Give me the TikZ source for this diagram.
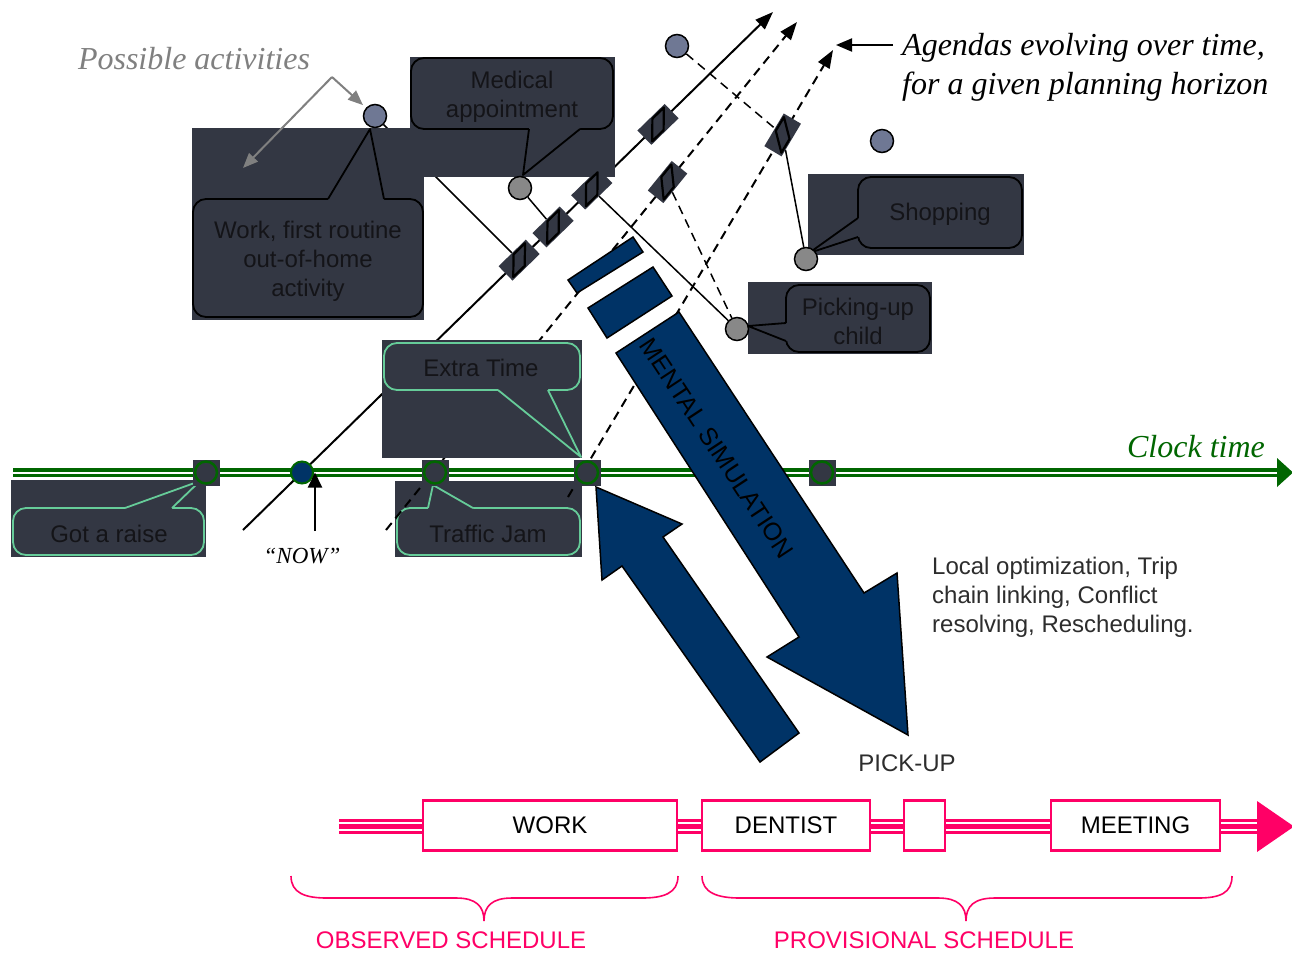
\documentclass[tikz,border=0pt]{standalone}
\usepackage{fontspec}
\setmainfont{Liberation Serif}
\setsansfont{Liberation Sans}
\usetikzlibrary{arrows.meta,calc}

\definecolor{panel}{RGB}{51,55,67}
\definecolor{ink}{RGB}{20,20,24}
\definecolor{actslate}{RGB}{111,120,148}
\definecolor{actgray}{RGB}{136,136,136}
\definecolor{simblue}{RGB}{0,51,102}
\definecolor{mint}{RGB}{102,204,153}
\definecolor{clockgreen}{RGB}{0,102,0}
\definecolor{schedpink}{RGB}{255,0,102}
\definecolor{softgray}{RGB}{128,128,128}
\definecolor{notegray}{RGB}{45,45,45}

\pgfdeclarelayer{under}
\pgfdeclarelayer{wires}
\pgfdeclarelayer{panels}
\pgfsetlayers{under,wires,panels,main}

\begin{document}
\begin{tikzpicture}[x=1pt,y=-1pt,
  lbl/.style={font=\sffamily\fontsize{24}{29}\selectfont, text=ink, align=center, inner sep=0pt, yshift=-2pt},
  serifit/.style={font=\itshape\fontsize{32}{39}\selectfont, inner sep=0pt},
  act/.style={circle, draw=black, line width=1.5pt, minimum size=23pt, inner sep=0pt},
  slatept/.style={act, fill=actslate},
  graypt/.style={act, fill=actgray},
  bar/.style={rectangle, fill=panel, minimum width=38pt, minimum height=20pt, inner sep=0pt},
  barline/.style={draw=black, line width=2.2pt, line join=round},
  backdrop/.style={fill=panel},
  bubble/.style={fill=panel, draw=black, line width=1.8pt, rounded corners=13pt},
  mintbubble/.style={bubble, draw=mint},
  ptr/.style={draw=black, line width=1.8pt, line join=round},
  mintptr/.style={ptr, draw=mint},
  agenda/.style={line width=2pt, -{Triangle[length=18pt,width=13pt]}},
  dashedagenda/.style={agenda, dash pattern=on 9pt off 6pt},
  link/.style={line width=1.5pt},
  dashedlink/.style={link, dash pattern=on 9pt off 6pt},
  clocksq/.style={rectangle, fill=panel, minimum width=27pt, minimum height=26pt, inner sep=0pt},
  clockev/.style={circle, draw=clockgreen, fill=panel, line width=2.5pt, minimum size=22pt, inner sep=0pt},
  sim/.style={fill=simblue, draw=black, line width=1.5pt, line join=miter},
  schedbox/.style={rectangle, draw=schedpink, fill=white, line width=2.5pt, minimum height=50pt, inner sep=0pt, text=black, font=\sffamily\fontsize{24}{29}\selectfont},
  brace/.style={draw=schedpink, line width=1.6pt},
  hint/.style={draw=softgray, line width=2pt, -{Triangle[length=15pt,width=12pt]}},
]
\useasboundingbox (0,0) rectangle (1292,954);

% ---------- key points of the agenda lines ----------
\coordinate (a1s) at (243,530);  \coordinate (a1e) at (773,12);
\coordinate (a2s) at (386,530);  \coordinate (a2e) at (797,22);
\coordinate (a3s) at (568,497);  \coordinate (a3e) at (833,50);

% ---------- boxes along the agendas ----------
\node[bar, rotate=44.3] (b1) at ($(a1s)!0.521!(a1e)$) {};
\node[bar, rotate=44.3] (b2) at ($(a1s)!0.585!(a1e)$) {};
\node[bar, rotate=44.3] (b3) at ($(a1s)!0.658!(a1e)$) {};
\node[bar, rotate=44.3] (b4) at ($(a1s)!0.783!(a1e)$) {};
\node[bar, rotate=51.0] (b5) at ($(a2s)!0.685!(a2e)$) {};
\node[bar, rotate=59.3] (b6) at ($(a3s)!0.81!(a3e)$) {};
\foreach \b/\r in {b1/44.3,b2/44.3,b3/44.3,b4/44.3,b5/51.0,b6/59.3}{
  \begin{scope}[shift={(\b.center)}, rotate=\r]
    \draw[barline] (-16,8) -- (0,8) -- (16,-8) -- (0,-8) -- cycle;
  \end{scope}
}

% ---------- activity points ----------
\node[slatept] (pWork) at (375,116) {};
\node[graypt]  (pMed)  at (520,188) {};
\node[slatept] (pTop)  at (677,46) {};
\node[slatept] (pFree) at (882,141) {};
\node[graypt]  (pShop) at (806,259) {};
\node[graypt]  (pPick) at (737,329) {};

% ---------- clock-time axis ----------
\begin{pgfonlayer}{under}
  \fill[white] (0,0) rectangle (1292,954);
  \coordinate (clk0) at (13,472.5);
  \coordinate (clk1) at (1280,472.5);
  \draw[draw=clockgreen, line width=3.4pt, double=white, double distance=2pt] (clk0) -- (clk1);
  \fill[clockgreen] (1277,458) -- (1293,472.5) -- (1277,487) -- cycle;

  % Got a raise
  \fill[backdrop] (11,480) rectangle (206,557);
  \draw[mintbubble] (13,508) rectangle (204,555);
  \fill[panel] (125,510) -- (125,508) -- (200,481) -- (172,508) -- (172,510) -- cycle;
  \draw[mintptr] (125,508) -- (200,481) -- (172,508);
  \node[lbl] (tRaise) at (109,532) {Got a raise};

  % Traffic Jam
  \fill[backdrop] (395,481) rectangle (582,557);
  \draw[mintbubble] (397,508) rectangle (580,555);
  \fill[panel] (428,510) -- (428,508) -- (433,485) -- (473,508) -- (473,510) -- cycle;
  \draw[mintptr] (428,508) -- (433,485) -- (473,508);
  \node[lbl] (tJam) at (488,532) {Traffic Jam};
\end{pgfonlayer}

% ---------- agenda lines and links ----------
\begin{pgfonlayer}{wires}
  \draw[agenda] (a1s) -- (a1e);
  \draw[dashedagenda] (a2s) -- (a2e);
  \draw[dashedagenda] (a3s) -- (a3e);
  \draw[link] (pWork) -- (b1);
  \draw[link] (pMed) -- (b2);
  \draw[link] (b3) -- (pPick);
  \draw[link] (b6) -- (pShop);
  \draw[dashedlink] (pTop) -- (b6);
  \draw[dashedlink] (b5) -- (pPick);
\end{pgfonlayer}

% ---------- activity call-outs ----------
\begin{pgfonlayer}{panels}
  % Work
  \fill[backdrop] (192,128) rectangle (424,320);
  % Medical appointment
  \fill[backdrop] (410,57) rectangle (615,177);
  \draw[bubble] (193,199) rectangle (423,317);
  \fill[panel] (328,201) -- (328,199) -- (370,129) -- (384,199) -- (384,201) -- cycle;
  \draw[ptr] (328,199) -- (370,129) -- (384,199);
  \node[lbl] (tWork) at (308,259) {Work, first routine\\out-of-home\\activity};

  \draw[bubble] (411,58) rectangle (613,129);
  \fill[panel] (529,127) -- (529,129) -- (523,175) -- (580,129) -- (580,127) -- cycle;
  \draw[ptr] (529,129) -- (523,175) -- (580,129);
  \node[lbl] (tMed) at (512,94.5) {Medical\\appointment};

  % Shopping
  \fill[backdrop] (808,174) rectangle (1024,255);
  \draw[bubble] (858,177) rectangle (1022,248);
  \fill[panel] (860,218) -- (858,218) -- (809,253) -- (858,237) -- (860,237) -- cycle;
  \draw[ptr] (858,218) -- (809,253) -- (858,237);
  \node[lbl] (tShop) at (940,212) {Shopping};

  % Picking-up child
  \fill[backdrop] (748,282) rectangle (932,354);
  \draw[bubble] (786,285) rectangle (930,352);
  \fill[panel] (788,323) -- (786,323) -- (748,326) -- (786,341) -- (788,341) -- cycle;
  \draw[ptr] (786,323) -- (748,326) -- (786,341);
  \node[lbl] (tPick) at (858,319) {Picking-up\\child};

  % Extra Time
  \fill[backdrop] (382,340) rectangle (582,458);
  \draw[mintbubble] (384,343) rectangle (580,390);
  \fill[panel] (498,388) -- (498,390) -- (581,457) -- (548,390) -- (548,388) -- cycle;
  \draw[mintptr] (498,390) -- (581,457) -- (548,390);
  \node[lbl] (tExtra) at (481,366) {Extra Time};
\end{pgfonlayer}

% ---------- events on the clock axis ----------
\node[clocksq] (sRaise) at (206,472.5) {};
\node[clockev] (eRaise) at (sRaise) {};
\node[clocksq] (sJam) at (435,472.5) {};
\node[clockev] (eJam) at (sJam) {};
\node[clocksq] (sExtra) at (587,472.5) {};
\node[clockev] (eExtra) at (sExtra) {};
\node[clocksq] (sLate) at (822,472.5) {};
\node[clockev] (eLate) at (sLate) {};
\node[circle, draw=clockgreen, fill=simblue, line width=2pt, minimum size=22pt, inner sep=0pt] (now) at (302,472.5) {};

\coordinate (nowfoot) at (315,531);
\draw[line width=2pt, -{Triangle[length=15pt,width=14pt]}] (nowfoot) -- (nowfoot |- now.east);
\node[font=\itshape\fontsize{23}{27}\selectfont, inner sep=0pt] (tNow) at (302,556) {“NOW”};

\node[serifit, text=clockgreen] (tClock) at (1196,447) {Clock time};

% ---------- headings ----------
\node[serifit, text=softgray] (tPossible) at (194,59) {Possible activities};
\coordinate (hintV) at (332,77);
\coordinate (hintW) at (243,168);
\draw[hint, shorten >=4pt] (hintV) -- (pWork);
\draw[hint] (hintV) -- (hintW);

\node[serifit, align=left, anchor=west] (tAgendas) at (902,67) {Agendas evolving over time,\\for a given planning horizon};
\coordinate (agTail) at (893,45);
\coordinate (agTip) at (836,45);
\draw[line width=2pt, -{Triangle[length=16pt,width=13pt]}] (agTail) -- (agTip);

% ---------- mental simulation ----------
\filldraw[sim] (568,280) -- (633,237) -- (643,252) -- (577,293) -- cycle;
\filldraw[sim] (588,308) -- (653,267) -- (672,296) -- (607,338) -- cycle;
\filldraw[sim] (616,353) -- (679,312) -- (864,593) -- (897,573) -- (908,735) -- (767,657) -- (799,637) -- cycle;
\filldraw[sim] (760,762) -- (799,733) -- (663,537) -- (682,524) -- (596,487) -- (602,580) -- (622,566) -- cycle;
\node[font=\sffamily\fontsize{25}{30}\selectfont, rotate=-56.6, inner sep=0pt] (tSim) at (717,448) {MENTAL SIMULATION};

\node[font=\sffamily\fontsize{24}{29}\selectfont, text=notegray, align=left, anchor=west, inner sep=0pt] (tOpt) at (932,597)
  {Local optimization, Trip\\chain linking, Conflict\\resolving, Rescheduling.};
\node[font=\sffamily\fontsize{24}{29}\selectfont, text=notegray, inner sep=0pt] (tPickup) at (907,763) {PICK-UP};

% ---------- schedule ----------
\coordinate (sched0) at (339,826.5);
\coordinate (sched1) at (1260,826.5);
\draw[schedpink, line width=15pt] (sched0) -- (sched1);
\draw[white, line width=1.8pt] ($(sched0)+(0,-3.2)$) -- ($(sched1)+(0,-3.2)$);
\draw[white, line width=1.8pt] ($(sched0)+(0,3.2)$) -- ($(sched1)+(0,3.2)$);
\fill[schedpink] (1257,801) -- (1294,826.5) -- (1257,852) -- cycle;

\node[schedbox, minimum width=254pt] (sWork) at (550,825.5) {WORK};
\node[schedbox, minimum width=168pt] (sDent) at (786,825.5) {DENTIST};
\node[schedbox, minimum width=41pt] (sGap) at (924.5,825.5) {};
\node[schedbox, minimum width=169pt] (sMeet) at (1135.5,825.5) {MEETING};

\draw[brace] (291,876) .. controls (291,893) and (305,898) .. (327,898) -- (456,898)
  .. controls (476,898) and (484,906) .. (484,921)
  .. controls (484,906) and (492,898) .. (512,898) -- (642,898)
  .. controls (664,898) and (678,893) .. (678,876);
\draw[brace] (702,876) .. controls (702,893) and (718,898) .. (740,898) -- (938,898)
  .. controls (958,898) and (966,906) .. (966,921)
  .. controls (966,906) and (974,898) .. (995,898) -- (1198,898)
  .. controls (1220,898) and (1232,893) .. (1232,876);

\node[font=\sffamily\fontsize{24}{29}\selectfont, text=schedpink, inner sep=0pt] (tObs) at (451,940) {OBSERVED SCHEDULE};
\node[font=\sffamily\fontsize{24}{29}\selectfont, text=schedpink, inner sep=0pt] (tProv) at (924,940) {PROVISIONAL SCHEDULE};
\end{tikzpicture}
\end{document}
